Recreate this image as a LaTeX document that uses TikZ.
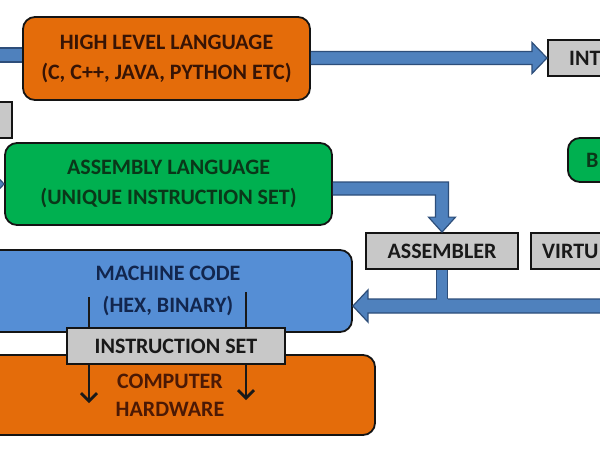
\documentclass[tikz,border=0pt]{standalone}
\usepackage{fontspec}
\setmainfont{Carlito}
\usetikzlibrary{calc,arrows.meta}
\definecolor{hllorange}{RGB}{228,108,10}
\definecolor{asmgreen}{RGB}{0,176,80}
\definecolor{mcblue}{RGB}{85,142,213}
\definecolor{arrowblue}{RGB}{79,129,189}
\definecolor{arrowedge}{RGB}{45,78,122}
\definecolor{boxgrey}{RGB}{200,200,200}
\definecolor{edgecol}{RGB}{20,20,20}
\definecolor{hlltext}{RGB}{55,20,5}
\definecolor{asmtext}{RGB}{10,55,25}
\definecolor{mctext}{RGB}{18,38,78}
\definecolor{hwtext}{RGB}{75,25,5}
\definecolor{greytext}{RGB}{25,25,25}
\begin{document}
\begin{tikzpicture}[x=1pt,y=-1pt,
  lbl/.style={font=\fontsize{22}{30}\selectfont\bfseries, align=center},
  bigbox/.style={draw=edgecol, line width=1.8pt, rounded corners=12pt, inner sep=0pt, lbl},
  greybox/.style={draw=edgecol, fill=boxgrey, line width=1.8pt, inner sep=0pt, lbl, text=greytext},
  cuttext/.style={lbl, inner sep=0pt, anchor=west},
  fatarrow/.style={fill=arrowblue, draw=arrowedge, line width=1.2pt, line join=miter},
  blackarrow/.style={draw=black!90, line width=2.7pt, -{Straight Barb[length=8pt,width=16pt]}}]
\fill[white] (0,0) rectangle (600,450);
\useasboundingbox (0,0) rectangle (600,450);
\clip (0,0) rectangle (600,450);

% boxes
\node[bigbox, fill=hllorange, text=hlltext, minimum width=287pt, minimum height=83pt] (hll) at (166.5,58.5) {HIGH LEVEL LANGUAGE\\(C, C++, JAVA, PYTHON ETC)};
\node[greybox, minimum width=72pt, minimum height=36pt] (cmp) at (-24,120) {};
\node[bigbox, fill=asmgreen, text=asmtext, minimum width=327pt, minimum height=82pt] (asm) at (168.5,184) {ASSEMBLY LANGUAGE\\(UNIQUE INSTRUCTION SET)};
\node[bigbox, fill=mcblue, text=mctext, minimum width=368pt, minimum height=82pt, font=\fontsize{22}{32}\selectfont\bfseries] (mc) at (168,291) {MACHINE CODE\\(HEX, BINARY)};
\node[bigbox, fill=hllorange, text=hwtext, minimum width=410pt, minimum height=80pt, font=\fontsize{22}{28}\selectfont\bfseries] (hw) at (170,395) {COMPUTER\\HARDWARE};
\node[greybox, minimum width=152pt, minimum height=36pt] (asmr) at (442,251) {ASSEMBLER};
\node[greybox, minimum width=170pt, minimum height=36pt, anchor=west] (vm) at (530,251) {};
\node[cuttext, text=greytext] (vmt) at (542,251) {VIRTU};
\node[greybox, minimum width=160pt, minimum height=36pt, anchor=west] (int) at (547,58) {};
\node[cuttext, text=greytext] (intt) at (569,58) {INT};
\node[bigbox, fill=asmgreen, minimum width=120pt, minimum height=44pt, anchor=west] (bc) at (567,160) {};
\node[cuttext, text=asmtext] (bct) at (586,160) {B};

% black arrows through the instruction set
\coordinate (k1a) at (89,297);
\coordinate (k1b) at (89,403);
\coordinate (k2a) at (246,292);
\coordinate (k2b) at (246,400);
\draw[blackarrow] (k1a) -- (k1b);
\draw[blackarrow] (k2a) -- (k2b);
\node[greybox, minimum width=218pt, minimum height=36pt] (iset) at (176,346) {INSTRUCTION SET};

% fat arrow: high level language -> interpreter
\filldraw[fatarrow] ($(hll.east|-int.west)+(0,-6.5)$) -- ($(int.west)+(-15,-6.5)$) -- ($(int.west)+(-15,-15.5)$) -- (int.west) -- ($(int.west)+(-15,15.5)$) -- ($(int.west)+(-15,6.5)$) -- ($(hll.east|-int.west)+(0,6.5)$);

% band leaving high level language to the left
\coordinate (hlin) at (-10,55);
\fill[arrowblue] ($(hll.west|-hlin)+(0,-7)$) rectangle ($(hlin)+(0,7)$);
\draw[arrowedge, line width=1.2pt] ($(hll.west|-hlin)+(0,-7)$) -- ($(hlin)+(0,-7)$);
\draw[arrowedge, line width=1.2pt] ($(hll.west|-hlin)+(0,7)$) -- ($(hlin)+(0,7)$);

% arrow head entering assembly language from the left
\filldraw[fatarrow] (asm.west) -- ++(-15,-15.5) -- ++(0,9) -- ++(-30,0) -- ++(0,13) -- ++(30,0) -- ++(0,9) -- cycle;

% fat arrow: assembly language -> assembler
\coordinate (b1) at ($(asm.east)+(0,4.5)$);
\coordinate (a2) at (asmr.north);
\filldraw[fatarrow] ($(b1)+(0,-6.5)$) -- ($(a2|-b1)+(6.5,-6.5)$) -- ($(a2)+(6.5,-15)$) -- ($(a2)+(13.5,-15)$) -- (a2) -- ($(a2)+(-13.5,-15)$) -- ($(a2)+(-6.5,-15)$) -- ($(a2|-b1)+(-6.5,6.5)$) -- ($(b1)+(0,6.5)$);

% long fat arrow into machine code
\coordinate (c1) at ($(mc.east)+(0,15)$);
\coordinate (vmin) at (615,306);
\filldraw[fatarrow] ($(vmin)+(0,-7)$) -- ($(c1)+(15,-7)$) -- ($(c1)+(15,-16)$) -- (c1) -- ($(c1)+(15,16)$) -- ($(c1)+(15,7)$) -- ($(vmin)+(0,7)$);

% stub from assembler down to the long arrow
\fill[arrowblue] ($(asmr.south)+(-5.5,0)$) rectangle ($(asmr.south|-c1)+(5.5,-6)$);
\draw[arrowedge, line width=1.2pt] ($(asmr.south)+(-5.5,0)$) -- ($(asmr.south|-c1)+(-5.5,-7)$);
\draw[arrowedge, line width=1.2pt] ($(asmr.south)+(5.5,0)$) -- ($(asmr.south|-c1)+(5.5,-7)$);
\end{tikzpicture}
\end{document}
